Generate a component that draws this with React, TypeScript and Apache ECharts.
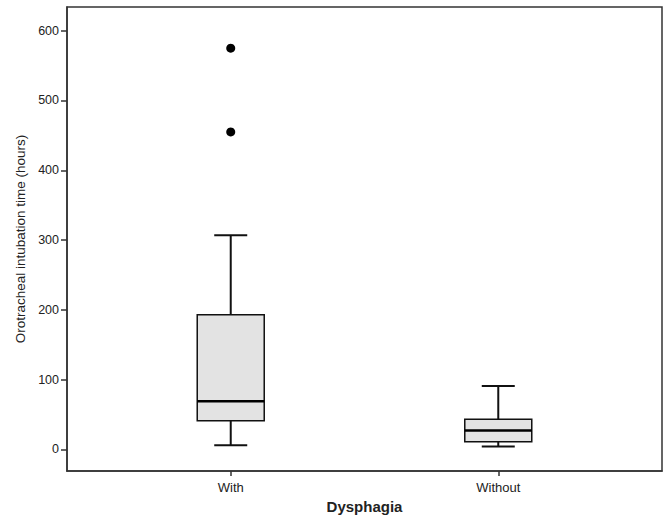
import React, { useEffect, useRef } from "react";
import * as echarts from "echarts";

const categories = ["With", "Without"];
const positions = [1, 2];
// [lower whisker, Q1, median, Q3, upper whisker]
const boxStats = [
  [6, 41, 69, 193, 307],
  [4, 11, 27, 43, 91],
];
const outliers = [
  [1, 575],
  [1, 455],
];
const yTicks = [0, 100, 200, 300, 400, 500, 600];

export default function App() {
  const ref = useRef<HTMLDivElement>(null);
  useEffect(() => {
    const chart = echarts.init(ref.current!, null, { renderer: "svg" });
    const boxData = positions.map((p, i) => [p, ...boxStats[i]]);
    const font = "'Liberation Sans', Arial, sans-serif";
    chart.setOption({
      animation: false,
      backgroundColor: "#ffffff",
      grid: {
        left: 67,
        top: 7,
        right: 5,
        bottom: 44,
        show: true,
        borderColor: "#333",
        borderWidth: 1.5,
        outerBoundsMode: "none",
        containLabel: false,
      },
      xAxis: {
        type: "value",
        min: 0.388,
        max: 2.612,
        name: "Dysphagia",
        nameLocation: "middle",
        nameGap: 27,
        nameTextStyle: { fontFamily: font, fontSize: 15, fontWeight: "bold", color: "#222" },
        splitLine: { show: false },
        axisLine: { show: true, onZero: false, lineStyle: { color: "#333", width: 1.5 } },
        axisTick: { show: true, customValues: positions, length: 5, lineStyle: { color: "#333", width: 1.5 } },
        axisLabel: {
          customValues: positions,
          formatter: (v: number) => categories[positions.indexOf(v)] ?? "",
          fontFamily: font,
          fontSize: 13,
          color: "#222",
          margin: 10,
        },
      },
      yAxis: {
        type: "value",
        min: -31,
        max: 634,
        name: "Orotracheal intubation time (hours)",
        nameLocation: "middle",
        nameGap: 38,
        nameTextStyle: { fontFamily: font, fontSize: 13.5, color: "#222" },
        splitLine: { show: false },
        axisLine: { show: true, onZero: false, lineStyle: { color: "#333", width: 1.5 } },
        axisTick: { show: true, customValues: yTicks, length: 6, lineStyle: { color: "#333", width: 1.5 } },
        axisLabel: {
          customValues: yTicks,
          fontFamily: font,
          fontSize: 12.5,
          color: "#222",
          margin: 8,
        },
      },
      series: [
        {
          type: "custom",
          data: boxData,
          encode: { x: 0, y: [1, 2, 3, 4, 5] },
          renderItem: (params: any, api: any) => {
            const x = api.value(0);
            const lo = api.coord([x, api.value(1)]);
            const q1 = api.coord([x, api.value(2)]);
            const med = api.coord([x, api.value(3)]);
            const q3 = api.coord([x, api.value(4)]);
            const hi = api.coord([x, api.value(5)]);
            const cx = lo[0];
            const hw = 33.5;
            const cw = 16.5;
            const ls = { stroke: "#111", lineWidth: 2 };
            return {
              type: "group",
              children: [
                { type: "line", shape: { x1: cx, y1: hi[1], x2: cx, y2: q3[1] }, style: ls },
                { type: "line", shape: { x1: cx, y1: q1[1], x2: cx, y2: lo[1] }, style: ls },
                { type: "line", shape: { x1: cx - cw, y1: hi[1], x2: cx + cw, y2: hi[1] }, style: ls },
                { type: "line", shape: { x1: cx - cw, y1: lo[1], x2: cx + cw, y2: lo[1] }, style: ls },
                {
                  type: "rect",
                  shape: { x: cx - hw, y: q3[1], width: hw * 2, height: q1[1] - q3[1] },
                  style: { fill: "#e3e3e3", stroke: "#111", lineWidth: 1.5 },
                },
                { type: "line", shape: { x1: cx - hw, y1: med[1], x2: cx + hw, y2: med[1] }, style: { stroke: "#000", lineWidth: 2.5 } },
              ],
            };
          },
        },
        {
          type: "scatter",
          data: outliers,
          symbol: "circle",
          symbolSize: 9,
          itemStyle: { color: "#000", opacity: 1 },
        },
      ],
    });
    return () => chart.dispose();
  }, []);
  return <div ref={ref} style={{ width: 667, height: 515, position: "absolute", left: 0, top: 0 }} />;
}
